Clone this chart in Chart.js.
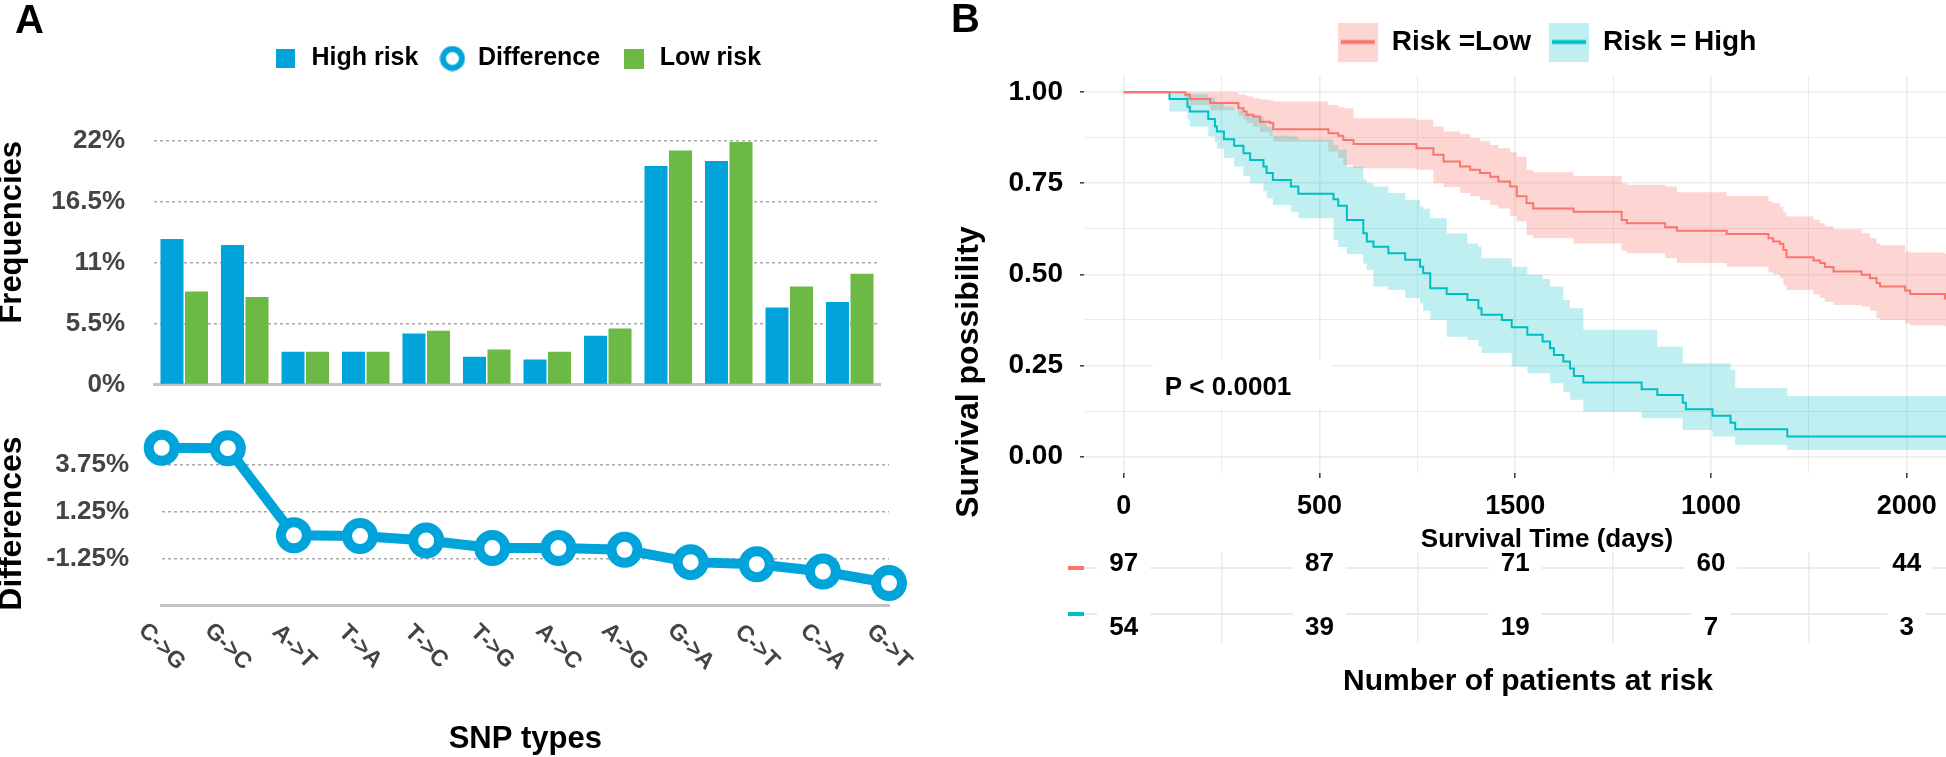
<!DOCTYPE html>
<html>
<head>
<meta charset="utf-8">
<title>SNP types and survival by risk group</title>
<script src="https://cdn.jsdelivr.net/npm/chart.js@4.4.1/dist/chart.umd.min.js"></script>
<style>
  html, body { margin:0; padding:0; background:#ffffff; }
  body { position:relative; width:1946px; height:757px; overflow:hidden; }
  canvas { position:absolute; display:block; }
</style>
</head>
<body>
<canvas id="freqChart" width="900" height="400" style="left:0px;top:0px;"></canvas>
<canvas id="diffChart" width="920" height="357" style="left:0px;top:400px;"></canvas>
<canvas id="kmChart" width="1070" height="560" style="left:940px;top:0px;"></canvas>
<canvas id="riskChart" width="1032" height="165" style="left:940px;top:545px;"></canvas>
<script>
// ---------------- Panel A data ----------------
const snpTypes = ['C->G','G->C','A->T','T->A','T->C','T->G','A->C','A->G','G->A','C->T','C->A','G->T'];
const highRiskFreq = [13.15, 12.6, 2.95, 2.95, 4.6, 2.5, 2.25, 4.4, 19.75, 20.2, 6.95, 7.45];
const lowRiskFreq  = [8.4, 7.9, 2.95, 2.95, 4.85, 3.15, 2.95, 5.05, 21.15, 21.9, 8.85, 10.0];
const differences  = [4.66, 4.64, 0.0, -0.04, -0.28, -0.68, -0.68, -0.77, -1.43, -1.54, -1.93, -2.54];
const freqTicks = [0, 5.5, 11, 16.5, 22];
const freqTickLabels = ['0%', '5.5%', '11%', '16.5%', '22%'];
const diffTicks = [-3.75, -2.5, -1.25, 0, 1.25, 2.5, 3.75, 5];
const diffTickLabels = ['', '', '-1.25%', '', '1.25%', '', '3.75%', ''];

// ---------------- Panel B data (Kaplan-Meier) ----------------
const lowTime  = [0,157,169,221,293,306,314,331,348,374,382,523,548,561,587,748,791,817,859,885,910,936,957,987,1004,1029,1046,1149,1272,1285,1383,1413,1540,1647,1659,1676,1685,1693,1762,1779,1791,1813,1885,1906,1923,1932,1996,2009,2098,2200];
const lowSurv  = [1,.9925,.981,.970,.956,.947,.938,.933,.919,.915,.898,.887,.880,.869,.858,.846,.828,.810,.796,.787,.778,.768,.755,.741,.714,.695,.681,.672,.649,.640,.629,.620,.611,.599,.590,.584,.567,.547,.538,.531,.520,.508,.499,.489,.476,.467,.456,.446,.434,.434];
const lowLower = [1,.981,.965,.950,.935,.925,.915,.905,.890,.880,.864,.837,.819,.800,.791,.787,.750,.740,.723,.714,.704,.690,.681,.660,.645,.608,.600,.585,.565,.558,.545,.531,.521,.505,.500,.490,.470,.457,.445,.435,.425,.416,.412,.400,.380,.375,.366,.360,.357,.357];
const lowUpper = [1,1,1,1,.9925,.9925,.988,.983,.980,.978,.974,.965,.960,.956,.928,.924,.906,.892,.885,.874,.865,.855,.846,.835,.823,.787,.780,.770,.750,.746,.741,.725,.715,.700,.695,.685,.670,.659,.650,.640,.632,.624,.613,.600,.585,.580,.563,.560,.556,.556];

const highTime  = [0,117,163,169,216,233,238,256,282,306,323,357,365,381,427,446,536,548,570,612,621,638,676,719,757,765,783,825,878,906,914,966,991,1031,1070,1089,1099,1123,1140,1150,1174,1323,1363,1428,1436,1504,1550,1562,1695,2200];
const highSurv  = [1,.981,.960,.947,.926,.906,.892,.871,.853,.832,.814,.796,.778,.759,.741,.721,.706,.688,.649,.613,.590,.576,.558,.540,.521,.503,.462,.446,.430,.407,.389,.375,.355,.334,.316,.297,.279,.261,.242,.221,.203,.185,.169,.148,.130,.112,.093,.075,.055,.055];
const highLower = [1,.947,.925,.905,.878,.862,.845,.819,.796,.770,.750,.728,.708,.690,.672,.654,.595,.575,.556,.530,.512,.467,.457,.435,.421,.400,.375,.329,.320,.302,.284,.284,.247,.229,.229,.201,.201,.178,.156,.156,.123,.105,.105,.073,.073,.055,.055,.032,.018,.018];
const highUpper = [1,1,1,.995,.985,.975,.968,.960,.950,.942,.933,.915,.905,.880,.878,.870,.855,.842,.796,.760,.750,.741,.723,.704,.686,.680,.654,.613,.585,.575,.544,.544,.521,.499,.487,.467,.467,.430,.407,.407,.348,.348,.302,.256,.256,.256,.238,.188,.166,.166];

const kmXGrid = [0, 250, 500, 750, 1000, 1250, 1500, 1750, 2000];
const kmXTickValues = [0, 500, 1000, 1500, 2000];
const kmXTickLabels = ['0', '500', '1500', '1000', '2000'];
const kmYGrid = [0, 0.125, 0.25, 0.375, 0.5, 0.625, 0.75, 0.875, 1];
const pValueText = 'P < 0.0001';
const pValueAt = [105, 0.19];

const atRiskTimes = [0, 500, 1000, 1500, 2000];
const atRiskLow  = [97, 87, 71, 60, 44];
const atRiskHigh = [54, 39, 19, 7, 3];
const riskRows = [0, 1];

// ---------------- styles ----------------
const FONT = '"Liberation Sans", Arial, Helvetica, sans-serif';
const BLUE = '#00a4da';
const GREEN = '#6cba45';
const LOW_LINE = '#F8766D';
const HIGH_LINE = '#00BFC4';
const LOW_BAND = 'rgba(248,118,109,0.30)';
const HIGH_BAND = 'rgba(0,191,196,0.25)';
const GRID_B = '#ebebeb';
const NONE = 'rgba(0,0,0,0)';

Chart.defaults.font.family = FONT;
Chart.defaults.font.weight = 'bold';
Chart.defaults.color = '#444';
Chart.defaults.animation = false;

function swatch(w, h, draw) {
  const c = document.createElement('canvas');
  c.width = w; c.height = h;
  draw(c.getContext('2d'), w, h);
  return c;
}
const swHigh = swatch(19, 19, (g, w, h) => { g.fillStyle = BLUE; g.fillRect(0, 0, w, h); });
const swDiff = swatch(26, 26, (g) => { g.beginPath(); g.arc(13, 13, 9.5, 0, Math.PI * 2); g.fillStyle = '#fff'; g.fill(); g.lineWidth = 6; g.strokeStyle = BLUE; g.stroke(); });
const swLow  = swatch(20, 20, (g, w, h) => { g.fillStyle = GREEN; g.fillRect(0, 0, w, h); });
const swKmLow  = swatch(40, 39, (g, w, h) => { g.fillStyle = LOW_BAND; g.fillRect(0, 0, w, h); g.fillStyle = LOW_LINE; g.fillRect(3, h / 2 - 2, w - 6, 4); });
const swKmHigh = swatch(40, 39, (g, w, h) => { g.fillStyle = HIGH_BAND; g.fillRect(0, 0, w, h); g.fillStyle = HIGH_LINE; g.fillRect(3, h / 2 - 2, w - 6, 4); });

// ---------------- plugins ----------------
const textMarks = {
  id: 'textMarks',
  afterDraw(chart, args, opts) {
    const ctx = chart.ctx;
    (opts.items || []).forEach(it => {
      ctx.save();
      ctx.font = it.font;
      ctx.fillStyle = it.color || '#000';
      ctx.textAlign = it.align || 'left';
      ctx.textBaseline = it.baseline || 'alphabetic';
      ctx.translate(it.x, it.y);
      if (it.rotate) ctx.rotate(it.rotate);
      ctx.fillText(it.text, 0, 0);
      ctx.restore();
    });
  }
};

const slantedLabels = {
  id: 'slantedLabels',
  afterDraw(chart, args, opts) {
    const s = chart.scales.x, ctx = chart.ctx;
    ctx.save();
    ctx.font = opts.font; ctx.fillStyle = opts.color;
    ctx.textAlign = 'center'; ctx.textBaseline = 'middle';
    chart.data.labels.forEach((lab, i) => {
      ctx.save();
      ctx.translate(s.getPixelForValue(i), s.top + opts.offset);
      ctx.rotate(opts.angle);
      ctx.fillText(lab, 0, 0);
      ctx.restore();
    });
    ctx.restore();
  }
};

const pValueLabel = {
  id: 'pValueLabel',
  beforeDatasetsDraw(chart, args, opts) {
    const px = chart.scales.x.getPixelForValue(opts.at[0]);
    const py = chart.scales.y.getPixelForValue(opts.at[1]);
    const ctx = chart.ctx;
    ctx.save(); ctx.font = opts.font;
    const w = ctx.measureText(opts.text).width;
    ctx.fillStyle = '#fff';
    ctx.fillRect(px - 12, py - 28, w + 52, 50);
    ctx.restore();
  },
  afterDatasetsDraw(chart, args, opts) {
    const px = chart.scales.x.getPixelForValue(opts.at[0]);
    const py = chart.scales.y.getPixelForValue(opts.at[1]);
    const ctx = chart.ctx;
    ctx.save(); ctx.font = opts.font; ctx.fillStyle = '#000';
    ctx.textAlign = 'left'; ctx.textBaseline = 'middle';
    ctx.fillText(opts.text, px, py);
    ctx.restore();
  }
};

const riskNumbers = {
  id: 'riskNumbers',
  beforeDatasetsDraw(chart, args, opts) {
    const ctx = chart.ctx;
    ctx.save(); ctx.font = opts.font; ctx.fillStyle = '#fff';
    chart.data.datasets.forEach((ds, i) => {
      chart.getDatasetMeta(i).data.forEach((pt, j) => {
        const w = ctx.measureText(String(ds.counts[j])).width;
        ctx.fillRect(pt.x - w / 2 - 12, pt.y - 15, w + 24, 30);
      });
    });
    ctx.restore();
  },
  afterDatasetsDraw(chart, args, opts) {
    const ctx = chart.ctx;
    ctx.save(); ctx.font = opts.font; ctx.fillStyle = '#000';
    ctx.textAlign = 'center'; ctx.textBaseline = 'middle';
    chart.data.datasets.forEach((ds, i) => {
      chart.getDatasetMeta(i).data.forEach((pt, j) => {
        ctx.fillText(String(ds.counts[j]), pt.x, pt.y);
      });
    });
    ctx.restore();
  }
};

// ---------------- Panel A: frequencies (bars) ----------------
new Chart(document.getElementById('freqChart'), {
  type: 'bar',
  data: {
    labels: snpTypes,
    datasets: [
      { label: 'High risk', data: highRiskFreq, backgroundColor: BLUE, categoryPercentage: 0.81, barPercentage: 0.94 },
      { label: 'Low risk', data: lowRiskFreq, backgroundColor: GREEN, categoryPercentage: 0.81, barPercentage: 0.94 }
    ]
  },
  plugins: [textMarks],
  options: {
    responsive: false, devicePixelRatio: 1, animation: false,
    layout: { padding: { top: 25, left: 0, right: 20, bottom: 0 } },
    plugins: {
      tooltip: { enabled: false },
      legend: {
        position: 'top', fullSize: false,
        labels: {
          usePointStyle: true, pointStyleWidth: 26, padding: 21,
          color: '#444', font: { size: 25, weight: 'bold' },
          generateLabels: () => [
            { text: 'High risk', pointStyle: swHigh, fillStyle: BLUE, strokeStyle: BLUE, lineWidth: 0, hidden: false, datasetIndex: 0 },
            { text: 'Difference', pointStyle: swDiff, fillStyle: '#fff', strokeStyle: BLUE, lineWidth: 0, hidden: false },
            { text: 'Low risk', pointStyle: swLow, fillStyle: GREEN, strokeStyle: GREEN, lineWidth: 0, hidden: false, datasetIndex: 1 }
          ]
        }
      },
      title: { display: true, text: ' ', weight: 500, padding: 0, font: { size: 60, lineHeight: 1 } },
      textMarks: { items: [ { text: 'A', x: 15, y: 33, font: 'bold 40px ' + FONT, color: '#000' } ] }
    },
    scales: {
      x: {
        grid: { display: false }, ticks: { display: false },
        border: { display: true, color: '#c4c4c4', width: 3 },
        afterFit(s) { s.height = 15; }
      },
      y: {
        min: 0, max: 22,
        afterBuildTicks(s) { s.ticks = freqTicks.map(v => ({ value: v })); },
        ticks: { callback: v => freqTickLabels[freqTicks.indexOf(v)], padding: 0, color: '#444', font: { size: 26, weight: 'bold' } },
        grid: { color: c => (c.tick && c.tick.value === 0) ? NONE : '#a8a8a8', lineWidth: 1.5, drawTicks: true, tickLength: 29, tickColor: NONE },
        border: { display: false, dash: [3, 3] },
        title: { display: true, text: 'Frequencies', color: '#000', align: 'end', padding: { top: 0, bottom: 0 }, font: { size: 31, weight: 'bold', lineHeight: 0.8 } },
        afterFit(s) { s.width = 154; }
      }
    }
  }
});

// ---------------- Panel A: differences (line) ----------------
new Chart(document.getElementById('diffChart'), {
  type: 'line',
  data: {
    labels: snpTypes,
    datasets: [{
      label: 'Difference', data: differences,
      borderColor: BLUE, borderWidth: 10, tension: 0,
      pointRadius: 13, pointBorderWidth: 10, pointBackgroundColor: '#fff', pointBorderColor: BLUE,
      clip: false
    }]
  },
  plugins: [slantedLabels],
  options: {
    responsive: false, devicePixelRatio: 1, animation: false,
    layout: { padding: { top: 41.4, left: 0, right: 31, bottom: 0 } },
    plugins: {
      legend: { display: false }, tooltip: { enabled: false },
      slantedLabels: { font: 'bold 23px ' + FONT, color: '#444', offset: 41, angle: Math.PI / 4 }
    },
    scales: {
      x: {
        offset: false,
        grid: { display: false }, ticks: { display: false },
        border: { display: true, color: '#c4c4c4', width: 3 },
        title: { display: true, text: 'SNP types', color: '#000', padding: { top: 0, bottom: 2 }, font: { size: 31, weight: 'bold', lineHeight: 1 } },
        afterFit(s) { s.height = 151.3; }
      },
      y: {
        min: -3.75, max: 5,
        afterBuildTicks(s) { s.ticks = diffTicks.map(v => ({ value: v })); },
        ticks: { callback: v => diffTickLabels[diffTicks.indexOf(v)], padding: 0, color: '#444', font: { size: 26, weight: 'bold' } },
        grid: { color: c => (c.tick && c.tick.value === -3.75) ? NONE : '#a8a8a8', lineWidth: 1.5, drawTicks: true, tickLength: 32.7, tickColor: NONE },
        border: { display: false, dash: [3, 3] },
        title: { display: true, text: 'Differences', color: '#000', padding: { top: 0, bottom: 0 }, font: { size: 32, weight: 'bold', lineHeight: 0.75 } },
        afterFit(s) { s.width = 161.7; }
      }
    }
  }
});

// ---------------- Panel B: Kaplan-Meier ----------------
const kmXMin = -101.4, kmXMax = 2263.9, riskXMax = 2166.8;
const pts = (xs, ys) => xs.map((x, i) => ({ x: x, y: ys[i] }));
const stepLine = { stepped: 'before', pointRadius: 0, pointHoverRadius: 0, tension: 0 };

new Chart(document.getElementById('kmChart'), {
  type: 'line',
  data: {
    datasets: [
      Object.assign({ label: 'Risk =Low', data: pts(lowTime, lowSurv), borderColor: LOW_LINE, borderWidth: 2, fill: false, order: 0 }, stepLine),
      Object.assign({ label: 'Risk = High', data: pts(highTime, highSurv), borderColor: HIGH_LINE, borderWidth: 2, fill: false, order: 0 }, stepLine),
      Object.assign({ label: 'Low upper', data: pts(lowTime, lowUpper), borderWidth: 0, borderColor: NONE, backgroundColor: LOW_BAND, fill: '+1', order: 2 }, stepLine),
      Object.assign({ label: 'Low lower', data: pts(lowTime, lowLower), borderWidth: 0, borderColor: NONE, fill: false, order: 2 }, stepLine),
      Object.assign({ label: 'High upper', data: pts(highTime, highUpper), borderWidth: 0, borderColor: NONE, backgroundColor: HIGH_BAND, fill: '+1', order: 1 }, stepLine),
      Object.assign({ label: 'High lower', data: pts(highTime, highLower), borderWidth: 0, borderColor: NONE, fill: false, order: 1 }, stepLine)
    ]
  },
  plugins: [textMarks, pValueLabel],
  options: {
    responsive: false, devicePixelRatio: 1, animation: false,
    layout: { padding: { top: 10, left: 0, right: 0, bottom: 0 } },
    plugins: {
      tooltip: { enabled: false },
      filler: { propagate: false },
      legend: {
        position: 'top', fullSize: false,
        labels: {
          usePointStyle: true, pointStyleWidth: 40, padding: 18,
          color: '#000', font: { size: 28, weight: 'bold' },
          generateLabels: () => [
            { text: 'Risk =Low', pointStyle: swKmLow, fillStyle: LOW_BAND, strokeStyle: LOW_LINE, lineWidth: 0, hidden: false, datasetIndex: 0 },
            { text: 'Risk = High', pointStyle: swKmHigh, fillStyle: HIGH_BAND, strokeStyle: HIGH_LINE, lineWidth: 0, hidden: false, datasetIndex: 1 }
          ]
        }
      },
      title: { display: true, text: ' ', weight: 500, padding: 0, font: { size: 9, lineHeight: 1 } },
      pValueLabel: { text: pValueText, at: pValueAt, font: 'bold 26px ' + FONT },
      textMarks: { items: [
        { text: 'B', x: 11, y: 32, font: 'bold 40px ' + FONT, color: '#000' },
        { text: 'Survival possibility', x: 29, y: 372, rotate: -Math.PI / 2, align: 'center', baseline: 'middle', font: 'bold 32px ' + FONT, color: '#000' }
      ] }
    },
    scales: {
      x: {
        type: 'linear', min: kmXMin, max: kmXMax,
        afterBuildTicks(s) { s.ticks = kmXGrid.map(v => ({ value: v })); },
        ticks: {
          autoSkip: false, maxRotation: 0, minRotation: 0, padding: 12,
          callback: v => { const i = kmXTickValues.indexOf(v); return i < 0 ? '' : kmXTickLabels[i]; },
          color: '#000', font: { size: 27, weight: 'bold' }
        },
        grid: {
          color: GRID_B,
          lineWidth: c => (c.tick && c.tick.value % 500 === 0) ? 1.6 : 1,
          tickLength: 5,
          tickColor: c => (c.tick && kmXTickValues.indexOf(c.tick.value) >= 0) ? '#444' : NONE
        },
        border: { display: false },
        title: { display: true, text: 'Survival Time (days)', color: '#000', padding: { top: 0, bottom: 5 }, font: { size: 26, weight: 'bold', lineHeight: 1.2 } },
        afterFit(s) { s.height = 87; }
      },
      y: {
        min: -0.045, max: 1.047,
        afterBuildTicks(s) { s.ticks = kmYGrid.map(v => ({ value: v })); },
        ticks: {
          padding: 17, color: '#000', font: { size: 28, weight: 'bold' },
          callback: v => (Math.round(v * 8) % 2 === 0) ? v.toFixed(2) : ''
        },
        grid: {
          color: GRID_B,
          lineWidth: c => (c.tick && Math.round(c.tick.value * 8) % 2 === 0) ? 1.6 : 1,
          tickLength: 4,
          tickColor: c => (c.tick && Math.round(c.tick.value * 8) % 2 === 0) ? '#444' : NONE
        },
        border: { display: false },
        title: { display: false },
        afterFit(s) { s.width = 144; }
      }
    }
  }
});

// ---------------- Panel B: number at risk table ----------------
new Chart(document.getElementById('riskChart'), {
  type: 'line',
  data: {
    datasets: [
      { label: 'Risk =Low', counts: atRiskLow, data: atRiskTimes.map(t => ({ x: t, y: riskRows[1] + 0.08 })), showLine: false, pointRadius: 0, pointHoverRadius: 0 },
      { label: 'Risk = High', counts: atRiskHigh, data: atRiskTimes.map(t => ({ x: t, y: riskRows[0] - 0.283 })), showLine: false, pointRadius: 0, pointHoverRadius: 0 }
    ]
  },
  plugins: [riskNumbers],
  options: {
    responsive: false, devicePixelRatio: 1, animation: false,
    layout: { padding: { top: 7, left: 0, right: 0, bottom: 0 } },
    plugins: {
      legend: { display: false }, tooltip: { enabled: false },
      riskNumbers: { font: 'bold 26px ' + FONT }
    },
    scales: {
      x: {
        type: 'linear', min: kmXMin, max: riskXMax,
        afterBuildTicks(s) { s.ticks = kmXGrid.map(v => ({ value: v })); },
        ticks: { display: false },
        grid: { color: c => (c.tick && c.tick.value % 500 === 250) ? GRID_B : NONE, lineWidth: 1.5, drawTicks: false },
        border: { display: false },
        title: { display: true, text: 'Number of patients at risk', color: '#000', padding: { top: 0, bottom: 10 }, font: { size: 30, weight: 'bold', lineHeight: 1.2 } },
        afterFit(s) { s.height = 67; }
      },
      y: {
        min: -0.616, max: 1.337,
        afterBuildTicks(s) { s.ticks = riskRows.map(v => ({ value: v })); },
        ticks: { display: false },
        grid: {
          color: GRID_B, lineWidth: 2,
          tickLength: 16, tickWidth: 4,
          tickColor: c => (c.tick && c.tick.value === 1) ? LOW_LINE : HIGH_LINE
        },
        border: { display: false },
        afterFit(s) { s.width = 144; }
      }
    }
  }
});
</script>
</body>
</html>
